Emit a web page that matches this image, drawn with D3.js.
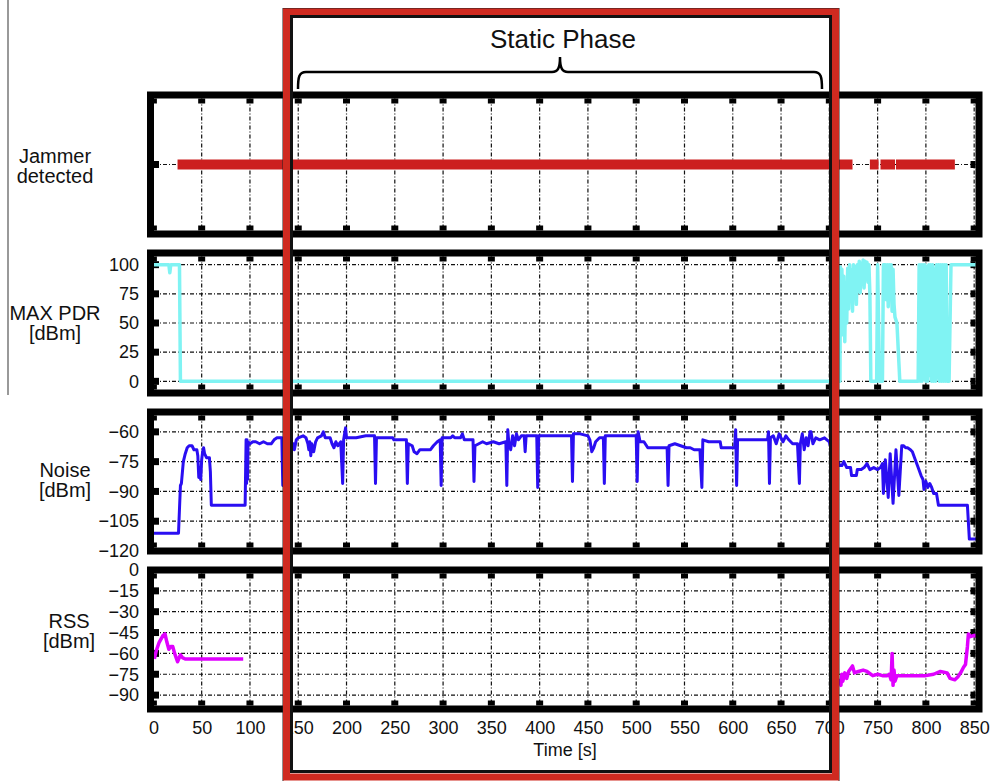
<!DOCTYPE html>
<html>
<head>
<meta charset="utf-8">
<script src="https://cdn.jsdelivr.net/npm/d3@7"></script>
<style>
body { margin: 0; background: #fff; }
text { font-family: "Liberation Sans", Arial, sans-serif; fill: #111; }
.grid { stroke: #111; stroke-width: 1.2; stroke-dasharray: 4,2,1,2; fill: none; }
</style>
</head>
<body>
<div id="chart"></div>
<script>
var xTicks = [0, 50, 100, 150, 200, 250, 300, 350, 400, 450, 500, 550, 600, 650, 700, 750, 800, 850]
var pdrTicks = [0, 25, 50, 75, 100]
var noiseTicks = [-120, -105, -90, -75, -60]
var rssTicks = [-90, -75, -60, -45, -30, -15, 0]

// jammer detected: on-intervals [start, end] in seconds
var jamStart = [25, 742, 753, 769]
var jamEnd = [724, 751, 768, 830]

var pdrSeries = [[0,100],[14,100],[16,100],[17,93],[18,100],[27,100],[28,0],[711,0],
 [711.5,98],[712.5,55],[713,96],[714,40],[715,90],[716,34],[717,85],[718,50],[719,97],[720,62],
 [721,100],[722,70],[723,95],[724,60],[725,100],[726,78],[727,98],[728,66],[729,100],[730,82],
 [731,103],[732,76],[733,101],[734,88],[735,104],[736,80],[737,103],[738,90],[739,102],[740,85],
 [741,100],[742,75],[743,0],[749,0],[750,100],[752,0],[755,0],[756,100],[758,100],[759,70],
 [760,100],[761,64],[762,100],[763,72],[764,100],[765,60],[766,96],[767,66],[768,55],[770,50],
 [773,0],[792,0],[793,100],[794,0],[795,100],[796,0],[797,100],[798,2],[799,100],[800,0],
 [801,98],[802,0],[803,100],[804,5],[805,100],[806,0],[807,100],[808,0],[809,96],[810,0],
 [811,100],[812,3],[813,100],[814,0],[815,100],[816,0],[817,100],[818,0],[819,100],[820,0],
 [821,100],[822,0],[824,0],[826,100],[853,100]]

var noiseSeries = [[0,-111],[26,-111],[27,-99],[28,-87],[29,-86],[31,-75],[33,-71],[35,-68],
 [37,-67],[40,-67],[42,-69],[45,-69],[46,-72],[47,-83],[48,-78],[49,-84],[50,-74],[51,-70],
 [52,-68],[53,-71],[55,-73],[58,-73],[59,-80],[60,-97],[95,-97],[95.5,-80],[96,-64],[96.5,-86],
 [97,-64],[97.5,-84],[98,-65],[100,-66],[103,-65],[106,-65],[110,-66],[114,-65],[118,-66],
 [122,-66],[125,-64],[128,-63],[133,-63],[134,-87],[135,-66],[140,-66],[145,-66],[146,-69],
 [148,-64],[150,-63],[155,-62],[158,-63],[160,-66],[161,-69],[162,-65],[163,-72],[164,-66],
 [166,-70],[168,-65],[170,-63],[174,-62],[176,-60],[178,-63],[183,-63],[185,-66],[187,-68],
 [189,-65],[191,-67],[194,-65],[196,-86],[197,-64],[199,-58],[200,-63],[210,-63],[220,-62],
 [229,-62],[230,-86],[231,-63],[240,-63],[248,-63],[249,-64],[262,-64],[263,-86],[264,-66],
 [268,-67],[270,-70],[273,-71],[276,-69],[282,-69],[287,-69],[290,-67],[294,-65],[297,-64],
 [298,-87],[299,-63],[308,-63],[310,-62],[312,-63],[318,-63],[320,-61],[322,-64],[331,-64],
 [332,-85],[333,-67],[337,-66],[341,-65],[345,-66],[352,-65],[358,-66],[365,-65],[366,-87],
 [367,-59],[368,-65],[370,-69],[372,-62],[374,-67],[376,-61],[378,-64],[381,-62],[384,-62],
 [385,-70],[386,-62],[390,-62],[397,-62],[398,-88],[399,-62],[403,-62],[410,-62],[420,-62],
 [428,-62],[433,-62],[434,-85],[435,-61],[442,-61],[450,-62],[452,-64],[454,-70],[456,-68],
 [458,-65],[462,-63],[466,-63],[467,-86],[468,-62],[475,-62],[480,-62],[485,-62],[490,-62],
 [497,-62],[500,-62],[501,-85],[502,-60],[504,-65],[508,-65],[512,-68],[520,-68],[528,-68],
 [532,-68],[533,-87],[534,-67],[540,-66],[546,-67],[552,-68],[556,-68],[560,-69],[566,-69],
 [568,-88],[569,-64],[575,-65],[580,-65],[587,-65],[588,-68],[595,-68],[600,-68],[602,-68],
 [603,-59],[604,-87],[605,-64],[612,-64],[620,-64],[628,-64],[636,-64],[637,-60],[638,-86],
 [639,-63],[642,-62],[645,-66],[648,-61],[652,-65],[655,-62],[658,-64],[662,-66],[667,-66],
 [669,-86],[670,-66],[672,-61],[674,-69],[676,-63],[678,-67],[680,-60],[681,-60],[683,-66],
 [686,-63],[690,-64],[695,-63],[700,-65],[702,-69],[704,-70],[706,-73],[709,-75],[711,-77],
 [713,-77],[715,-75],[718,-78],[722,-78],[723,-82],[728,-82],[729,-79],[733,-79],[736,-78],
 [739,-76],[742,-79],[746,-78],[750,-79],[753,-78],[755,-76],[756,-91],[758,-74],[761,-93],
 [763,-71],[766,-96],[769,-69],[772,-92],[775,-67],[777,-67],
 [779,-68],[781,-68],[784,-69],[786,-70],[789,-74],[792,-78],[795,-82],[797,-84],[798,-89],
 [800,-85],[802,-88],[804,-86],[806,-88],[808,-91],[811,-91],[813,-97],[843,-97],[845,-114],
 [853,-114]]

var rssEarly = [[1,-64],[3,-58],[6,-52],[10,-47],[12,-46],[14,-52],[16,-57],[18,-55],[20,-55],
 [22,-60],[25,-66],[28,-61],[30,-63],[33,-64],[93,-64]]
var rssLate = [[711,-78],[712,-83],[713,-75],[714,-80],[716,-74],[718,-78],[720,-73],[722,-71],
 [724,-69],[726,-74],[730,-73],[735,-72],[739,-73],[745,-76],[750,-75],[755,-76],[760,-76],
 [762,-75],[764,-79],[765,-60],[766,-83],[767,-72],[768,-80],[770,-76],[780,-76],[790,-76],
 [800,-76],[808,-75],[815,-73],[822,-74],[825,-78],[830,-79],[833,-77],[836,-74],[839,-70],
 [841,-68],[843,-55],[844,-46],[846,-48],[850,-47],[853,-48]]

var svg = d3.select("#chart")
            .append('svg')
            .attr("width", 990)
            .attr("height", 781)

var xs = d3.scaleLinear().domain([-3, 855]).range([150.5, 979])
var left = xs(-3), right = xs(855)
var bw = 7

var panels = [
  {top: 95, bottom: 234, domain: [0, 2], ticks: [1], labels: false, title: ['Jammer', 'detected'], tx: 55, ty: 163},
  {top: 253, bottom: 393, domain: [-10, 110], ticks: pdrTicks, labels: true, title: ['MAX PDR', '[dBm]'], tx: 55, ty: 320},
  {top: 412, bottom: 551, domain: [-120, -50], ticks: noiseTicks, labels: true, title: ['Noise', '[dBm]'], tx: 65, ty: 477},
  {top: 570, bottom: 709, domain: [-100, 0], ticks: rssTicks, labels: true, title: ['RSS', '[dBm]'], tx: 69, ty: 628}
]

for (var p = 0; p < panels.length; p++) {
  var pn = panels[p]
  pn.ys = d3.scaleLinear().domain(pn.domain).range([pn.bottom, pn.top])
  var ys = pn.ys
  var inTop = pn.top + bw/2, inBot = pn.bottom - bw/2

  svg.append('rect')
     .attr('x', left).attr('y', pn.top)
     .attr('width', right - left).attr('height', pn.bottom - pn.top)
     .attr('fill', '#fff')

  // dashed grid
  for (var i = 0; i < xTicks.length; i++) {
    svg.append('line').attr('class', 'grid')
       .attr('x1', xs(xTicks[i])).attr('x2', xs(xTicks[i]))
       .attr('y1', inTop).attr('y2', inBot)
  }
  pn.ticks.forEach(function(v) {
    var y = ys(v)
    if (y < inTop + 1 || y > inBot - 1) return
    svg.append('line').attr('class', 'grid')
       .attr('x1', left + bw/2).attr('x2', right - bw/2)
       .attr('y1', y).attr('y2', y)
  })

  // tick marks (gnuplot-like squares, mirrored)
  for (var i = 0; i < xTicks.length; i++) {
    var x = xs(xTicks[i])
    svg.append('line').attr('x1', x).attr('x2', x).attr('y1', inTop).attr('y2', inTop + 5)
       .attr('stroke', '#000').attr('stroke-width', 7)
    svg.append('line').attr('x1', x).attr('x2', x).attr('y1', inBot).attr('y2', inBot - 5)
       .attr('stroke', '#000').attr('stroke-width', 7)
  }
  pn.ticks.forEach(function(v) {
    var y = ys(v)
    if (y < inTop + 1 || y > inBot - 1) return
    svg.append('line').attr('x1', left + bw/2).attr('x2', left + bw/2 + 5).attr('y1', y).attr('y2', y)
       .attr('stroke', '#000').attr('stroke-width', 7)
    svg.append('line').attr('x1', right - bw/2).attr('x2', right - bw/2 - 5).attr('y1', y).attr('y2', y)
       .attr('stroke', '#000').attr('stroke-width', 7)
  })

  if (pn.labels) {
    var ax = svg.append('g')
       .attr('transform', 'translate(139,0)')
       .call(d3.axisLeft(ys).tickValues(pn.ticks).tickSize(0).tickPadding(0))
    ax.select('.domain').remove()
    ax.selectAll('text').style('font-size', '18px').attr('font-family', null)
  }

  var t = svg.append('text')
     .attr('x', pn.tx).attr('y', pn.ty)
     .attr('text-anchor', 'middle')
     .style('font-size', '20px')
  t.append('tspan').attr('x', pn.tx).text(pn.title[0])
  t.append('tspan').attr('x', pn.tx).attr('dy', 20).text(pn.title[1])
}

function drawLine(data, ys, color, width) {
  var line = d3.line().x(function(d) { return xs(d[0]) }).y(function(d) { return ys(d[1]) })
  svg.append('path')
     .datum(data)
     .attr('d', line)
     .attr('fill', 'none')
     .attr('stroke', color)
     .attr('stroke-width', width)
     .attr('stroke-linejoin', 'round')
}

for (var j = 0; j < jamStart.length; j++) {
  drawLine([[jamStart[j], 1], [jamEnd[j], 1]], panels[0].ys, '#cc1f1f', 10)
}
drawLine(pdrSeries, panels[1].ys, '#80f3f3', 3.5)
drawLine(noiseSeries, panels[2].ys, '#2a0ef2', 3)
drawLine(rssEarly, panels[3].ys, '#e000ff', 3.5)
drawLine(rssLate, panels[3].ys, '#e000ff', 3.5)

// frames on top
panels.forEach(function(pn) {
  svg.append('rect')
     .attr('x', left).attr('y', pn.top)
     .attr('width', right - left).attr('height', pn.bottom - pn.top)
     .attr('fill', 'none').attr('stroke', '#000').attr('stroke-width', bw)
})

var xa = svg.append('g')
   .attr('transform', 'translate(0,721)')
   .call(d3.axisBottom(xs).tickValues(xTicks).tickSize(0).tickPadding(0))
xa.select('.domain').remove()
xa.selectAll('text').style('font-size', '18px').attr('font-family', null)

svg.append('text')
   .attr('x', 565).attr('y', 756)
   .attr('text-anchor', 'middle')
   .style('font-size', '18px')
   .text('Time [s]')

// left edge rule
svg.append('line').attr('x1', 8).attr('x2', 8).attr('y1', 0).attr('y2', 395)
   .attr('stroke', '#777').attr('stroke-width', 1.5)

// static phase highlight
svg.append('rect').attr('x', 283).attr('y', 8.5).attr('width', 556).attr('height', 780)
   .attr('fill', 'none').attr('stroke', '#222').attr('stroke-width', 1)
svg.append('rect').attr('x', 286.5).attr('y', 12).attr('width', 549).attr('height', 765)
   .attr('fill', 'none').attr('stroke', '#cf2a20').attr('stroke-width', 7)
svg.append('rect').attr('x', 291.5).attr('y', 16.5).attr('width', 539).attr('height', 755)
   .attr('fill', 'none').attr('stroke', '#111').attr('stroke-width', 3)

svg.append('text')
   .attr('x', 563).attr('y', 48)
   .attr('text-anchor', 'middle')
   .style('font-size', '26px')
   .text('Static Phase')

svg.append('path')
   .attr('d', 'M298,89 C298,77 299,72 306,72 L552,72 C558,72 560,68 560,57 C560,68 562,72 568,72 L814,72 C821,72 822,77 822,89')
   .attr('fill', 'none').attr('stroke', '#000').attr('stroke-width', 2.5)
</script>
</body>
</html>
